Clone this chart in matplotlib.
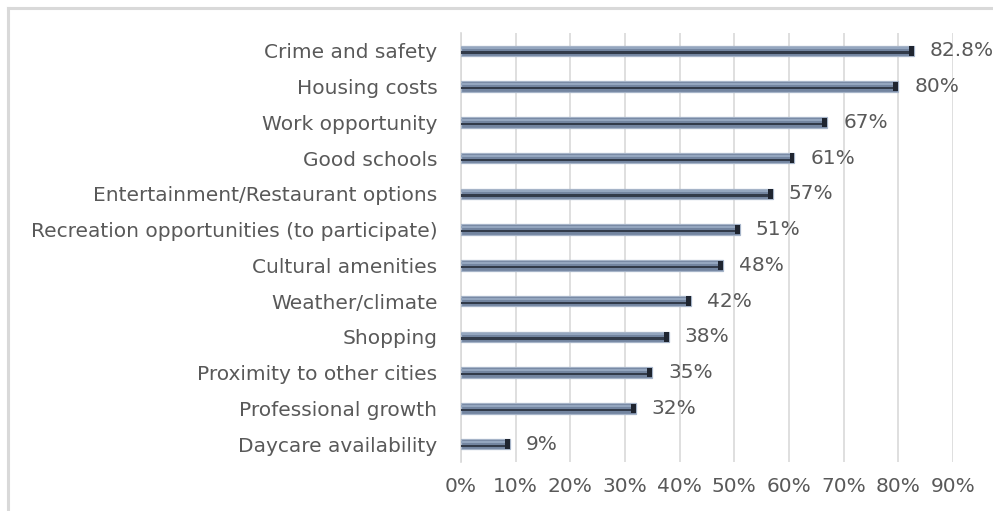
import matplotlib
matplotlib.use("Agg")
import matplotlib.pyplot as plt
import numpy as np
from matplotlib.lines import Line2D

categories = [
    "Crime and safety",
    "Housing costs",
    "Work opportunity",
    "Good schools",
    "Entertainment/Restaurant options",
    "Recreation opportunities (to participate)",
    "Cultural amenities",
    "Weather/climate",
    "Shopping",
    "Proximity to other cities",
    "Professional growth",
    "Daycare availability",
]
values = [82.8, 80, 67, 61, 57, 51, 48, 42, 38, 35, 32, 9]
value_labels = ["82.8%", "80%", "67%", "61%", "57%", "51%", "48%", "42%", "38%", "35%", "32%", "9%"]
xticks = [0, 10, 20, 30, 40, 50, 60, 70, 80, 90]
xtick_labels = [f"{t}%" for t in xticks]

FONT = ["DejaVu Sans"]
FS = 14.5
TXT = "#595959"
GRID = "#d9d9d9"

fig = plt.figure(figsize=(9.93, 5.11), dpi=100)
ax = fig.add_axes([461 / 993, 1 - 462 / 511, (953 - 461) / 993, (462 - 33) / 511])

y = np.arange(len(categories))
vals = np.array(values)

# main body
ax.barh(y, vals, height=0.29, color="#7385a0", edgecolor="#a6b4c8", linewidth=0.9, zorder=3)
# top highlight
ax.barh(y - 0.07, vals, height=0.06, color="#94a6bf", linewidth=0, zorder=4)
# dark lower stripe
ax.barh(y + 0.045, vals, height=0.065, color="#323b4a", linewidth=0, zorder=4)
# dark end cap
cap = 0.9
ax.barh(y, np.full_like(vals, cap), left=vals - cap, height=0.27, color="#1f2530", linewidth=0, zorder=5)

for yi, v, lab in zip(y, vals, value_labels):
    ax.annotate(lab, xy=(v, yi), xytext=(16, 0), textcoords="offset pixels",
                ha="left", va="center", fontsize=FS, color=TXT, family=FONT, zorder=6)

ax.set_xlim(0, 90)
ax.set_ylim(len(categories) - 0.5, -0.5)
ax.set_xticks(xticks)
ax.set_xticklabels(xtick_labels)
ax.set_yticks(y)
ax.set_yticklabels(categories)
ax.grid(axis="x", color=GRID, linewidth=1.2, zorder=0)
ax.set_axisbelow(True)
for s in ["top", "right", "bottom"]:
    ax.spines[s].set_visible(False)
ax.spines["left"].set_color(GRID)
ax.spines["left"].set_linewidth(1.2)
ax.tick_params(axis="both", length=0, colors=TXT, labelsize=FS)
ax.tick_params(axis="y", pad=17)
ax.tick_params(axis="x", pad=11)
for t in ax.get_xticklabels() + ax.get_yticklabels():
    t.set_family(FONT)
    t.set_color(TXT)

# outer chart frame (top and left edges visible)
fig.add_artist(Line2D([8 / 993, 8 / 993], [0, 1 - 8 / 511], transform=fig.transFigure, color=GRID, linewidth=2.2))
fig.add_artist(Line2D([8 / 993, 1], [1 - 8 / 511, 1 - 8 / 511], transform=fig.transFigure, color=GRID, linewidth=2.2))

fig.savefig("out.png", dpi=100)
